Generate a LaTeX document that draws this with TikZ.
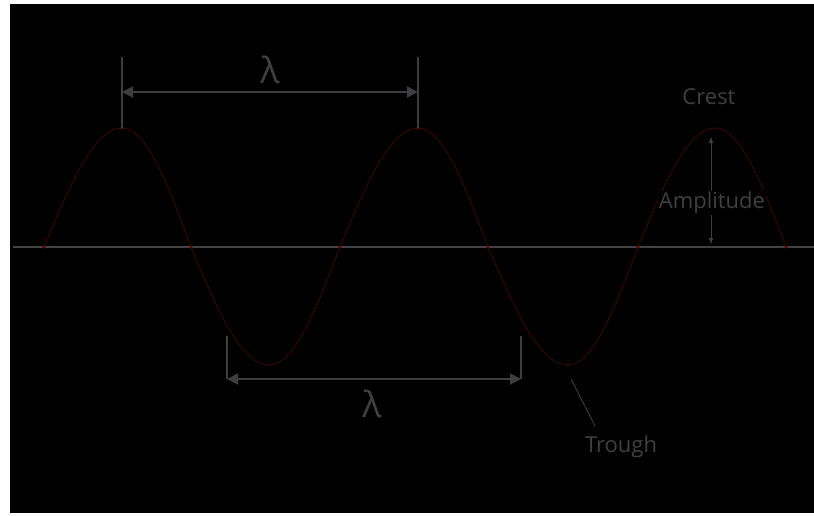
\documentclass[tikz,border=0pt]{standalone}
\usepackage{fontspec}
\setmainfont{Open Sans}
\usetikzlibrary{arrows.meta}
\definecolor{bgblack}{HTML}{000000}
\definecolor{dimgray}{HTML}{3E3E40}
\definecolor{axisgray}{HTML}{434345}
\definecolor{txtgray}{HTML}{404042}
\definecolor{wavered}{HTML}{2E0606}
\definecolor{dotred}{HTML}{5A0808}
\tikzset{
  dimline/.style={draw=dimgray, line width=1.6pt},
  dimarrow/.style={draw=dimgray, line width=1.8pt, {Triangle[length=11pt,width=11pt]}-{Triangle[length=11pt,width=11pt]}},
  amparrow/.style={draw=dimgray, line width=0.9pt, {Triangle[length=6pt,width=4pt]}-{Triangle[length=6pt,width=4pt]}},
  label/.style={text=txtgray, font=\fontsize{22}{24}\selectfont, inner sep=1pt},
  lam/.style={text=txtgray, font=\fontsize{36}{38}\selectfont, inner sep=0pt},
  wave/.style={draw=wavered, line width=1.2pt},
  reddot/.style={fill=dotred, draw=none},
}
\begin{document}
\begin{tikzpicture}[x=1pt,y=-1pt]
\useasboundingbox (0,0) rectangle (814,515);
\fill[white] (0,0) rectangle (814,515);
\fill[bgblack] (10,4) rectangle (814,513);
% axis
\coordinate (axL) at (13,247);
\coordinate (axR) at (814,247);
\draw[axisgray, line width=2.4pt] (axL) -- (axR);
% wave key points
\coordinate (z0) at (44,247);
\coordinate (c1) at (122,128);
\coordinate (z1) at (191,247);
\coordinate (t1) at (269,365);
\coordinate (z2) at (340,247);
\coordinate (c2) at (418,128);
\coordinate (z3) at (488,247);
\coordinate (t2) at (568,365);
\coordinate (z4) at (638,247);
\coordinate (c3) at (715,128);
\coordinate (z5) at (786,247);
\draw[wave] (z0) sin (c1) cos (z1) sin (t1) cos (z2) sin (c2) cos (z3) sin (t2) cos (z4) sin (c3) cos (z5);
\foreach \p in {z0,z1,z2,z3,z4,z5,c1,c2}{\fill[reddot] (\p) circle (1.8pt);}
% top wavelength
\coordinate (tl1) at (122,57);
\coordinate (tl2) at (418,57);
\coordinate (ta1) at (122,92);
\coordinate (ta2) at (418,92);
\draw[dimline] (tl1) -- (c1);
\draw[dimline] (tl2) -- (c2);
\draw[dimarrow] (ta1) -- (ta2);
\node[lam] (lamtop) at (270,70) {λ};
% bottom wavelength
\coordinate (bl1) at (227,336);
\coordinate (bl2) at (521,336);
\coordinate (ba1) at (227,379);
\coordinate (ba2) at (521,379);
\draw[dimline] (bl1) -- (ba1);
\draw[dimline] (bl2) -- (ba2);
\draw[dimarrow] (ba1) -- (ba2);
\node[lam] (lambot) at (372,404) {λ};
% amplitude
\coordinate (am1) at (711,137);
\coordinate (am2) at (711,244);
\draw[amparrow] (am1) -- (am2);
\node[label, fill=bgblack] (amp) at (712,203) {Amplitude};
% crest
\node[label] (crest) at (709,97) {Crest};
% trough
\node[label] (trough) at (621,447) {Trough};
\coordinate (tr1) at (571,379);
\coordinate (tr2) at (595,426);
\draw[draw=dimgray, line width=0.9pt] (tr1) -- (tr2);
\end{tikzpicture}
\end{document}
